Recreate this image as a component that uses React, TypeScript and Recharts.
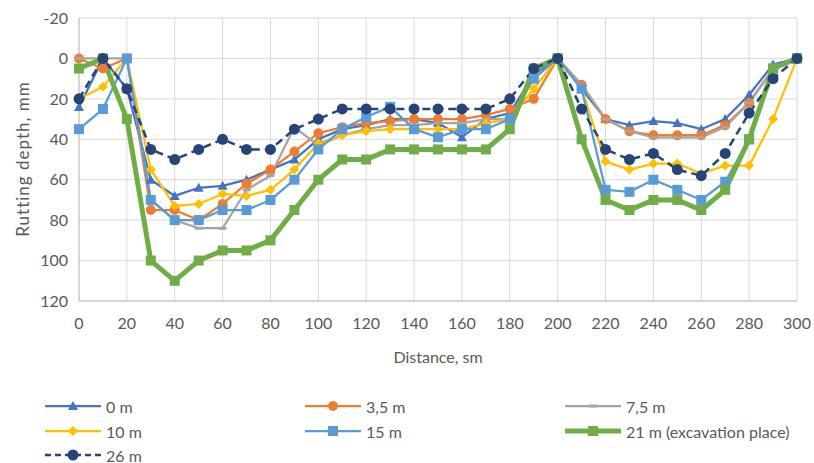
import React from 'react';
import { CartesianGrid, Line, LineChart, XAxis, YAxis } from 'recharts';

const distance = [0, 10, 20, 30, 40, 50, 60, 70, 80, 90, 100, 110, 120, 130, 140, 150, 160, 170, 180, 190, 200, 210, 220, 230, 240, 250, 260, 270, 280, 290, 300];

const depth0 = [24, 0, 15, 60, 68, 64, 63, 60, 55, 50, 40, 35, 33, 30, 30, 32, 39, 30, 27, 8, 0, 15, 30, 33, 31, 32, 35, 30, 18, 3, 0];
const depth35 = [0, 5, 0, 75, 75, 80, 72, 62, 55, 46, 37, 34, 32, 31, 30, 30, 30, 28, 25, 20, 0, 13, 30, 36, 38, 38, 38, 33, 22, 5, 0];
const depth75 = [0, 0, 0, 70, 80, 84, 84, 65, 58, 34, 43, 38, 35, 33, 33, 32, 32, 30, 30, 10, 0, 13, 30, 36, 39, 39, 39, 34, 22, 5, 0];
const depth10 = [20, 14, 0, 55, 73, 72, 67, 68, 65, 55, 42, 38, 36, 35, 35, 35, 35, 32, 30, 15, 0, 15, 51, 55, 52, 52, 57, 53, 53, 30, 0];
const depth15 = [35, 25, 0, 70, 80, 80, 75, 75, 70, 60, 45, 35, 29, 24, 35, 39, 35, 35, 30, 10, 0, 15, 65, 66, 60, 65, 70, 61, 40, 5, 0];
const depth21 = [5, 0, 30, 100, 110, 100, 95, 95, 90, 75, 60, 50, 50, 45, 45, 45, 45, 45, 35, 5, 0, 40, 70, 75, 70, 70, 75, 65, 40, 5, 0];
const depth26 = [20, 0, 15, 45, 50, 45, 40, 45, 45, 35, 30, 25, 25, 25, 25, 25, 25, 25, 20, 5, 0, 25, 45, 50, 47, 55, 58, 47, 27, 10, 0];

const yTicks = [-20, 0, 20, 40, 60, 80, 100, 120];
const xTicks = [0, 20, 40, 60, 80, 100, 120, 140, 160, 180, 200, 220, 240, 260, 280, 300];

const data = distance.map((d, i) => ({
  d,
  s0: depth0[i],
  s35: depth35[i],
  s75: depth75[i],
  s10: depth10[i],
  s15: depth15[i],
  s21: depth21[i],
  s26: depth26[i],
}));

type Shape = 'triangle' | 'circle' | 'dash' | 'diamond' | 'square' | 'bigcircle';

const marker = (shape: Shape, color: string, cx: number, cy: number, key?: string) => {
  switch (shape) {
    case 'triangle':
      return <path key={key} d={`M${cx},${cy - 5} L${cx + 5},${cy + 4} L${cx - 5},${cy + 4} Z`} fill={color} />;
    case 'circle':
      return <circle key={key} cx={cx} cy={cy} r={5} fill={color} />;
    case 'bigcircle':
      return <circle key={key} cx={cx} cy={cy} r={5.5} fill={color} />;
    case 'dash':
      return <rect key={key} x={cx - 4} y={cy - 1.5} width={8} height={3} fill={color} />;
    case 'diamond':
      return <path key={key} d={`M${cx},${cy - 5} L${cx + 5},${cy} L${cx},${cy + 5} L${cx - 5},${cy} Z`} fill={color} />;
    case 'square':
      return <rect key={key} x={cx - 5} y={cy - 5} width={10} height={10} fill={color} />;
  }
  return null;
};

const series = [
  { key: 's0', name: '0 m', color: '#4472C4', shape: 'triangle' as Shape, width: 2.25, dash: undefined },
  { key: 's35', name: '3,5 m', color: '#ED7D31', shape: 'circle' as Shape, width: 2.25, dash: undefined },
  { key: 's75', name: '7,5 m', color: '#A5A5A5', shape: 'dash' as Shape, width: 2.25, dash: undefined },
  { key: 's10', name: '10 m', color: '#FFC000', shape: 'diamond' as Shape, width: 2.25, dash: undefined },
  { key: 's15', name: '15 m', color: '#5B9BD5', shape: 'square' as Shape, width: 2.25, dash: undefined },
  { key: 's21', name: '21 m (excavation place)', color: '#70AD47', shape: 'square' as Shape, width: 5, dash: undefined },
  { key: 's26', name: '26 m', color: '#264478', shape: 'bigcircle' as Shape, width: 2.5, dash: '8 5' },
];

const font = 'Lato, "Open Sans", sans-serif';
const textColor = '#595959';

const legendPos = [
  { left: 45, top: 397 },
  { left: 305, top: 397 },
  { left: 565, top: 397 },
  { left: 45, top: 422 },
  { left: 305, top: 422 },
  { left: 565, top: 422 },
  { left: 45, top: 446 },
];

const YLabel = () => (
  <text
    transform="translate(22,159) rotate(-90)"
    textAnchor="middle"
    dominantBaseline="central"
    fill={textColor}
    fontSize={17}
    fontFamily={font}
    letterSpacing={1}
  >
    Rutting depth, mm
  </text>
);

export default function App() {
  return (
    <div style={{ position: 'absolute', left: 0, top: 0, width: 814, height: 463, background: '#fff', fontFamily: font, overflow: 'hidden' }}>
      <LineChart width={814} height={463} data={data} margin={{ top: 18, right: 17, bottom: 100, left: 0 }}>
        <CartesianGrid stroke="#d9d9d9" strokeWidth={1} verticalValues={xTicks} horizontalValues={yTicks} />
        <XAxis
          dataKey="d"
          type="number"
          domain={[0, 300]}
          ticks={xTicks}
          tickLine={false}
          axisLine={{ stroke: '#bfbfbf' }}
          tick={{ fill: textColor, fontSize: 16, fontFamily: font }}
          tickMargin={11}
          height={62}
          label={{ value: 'Distance, sm', position: 'insideBottom', offset: 0, fill: textColor, fontSize: 16, fontFamily: font }}
        />
        <YAxis
          reversed
          type="number"
          domain={[-20, 120]}
          ticks={yTicks}
          tickLine={false}
          axisLine={{ stroke: '#bfbfbf' }}
          tick={{ fill: textColor, fontSize: 16, fontFamily: font }}
          tickMargin={5}
          width={79}
          label={{ content: () => <YLabel /> }}
        />
        {series.map((s) => (
          <Line
            key={s.key}
            dataKey={s.key}
            name={s.name}
            stroke={s.color}
            strokeWidth={s.width}
            strokeDasharray={s.dash}
            isAnimationActive={false}
            dot={(p: any) => marker(s.shape, s.color, p.cx, p.cy, `${s.key}-${p.index}`)}
            activeDot={false}
          />
        ))}
      </LineChart>
      {series.map((s, i) => (
        <div key={s.key} style={{ position: 'absolute', left: legendPos[i].left, top: legendPos[i].top, display: 'flex', alignItems: 'center', height: 18, color: textColor, fontSize: 16, whiteSpace: 'nowrap' }}>
          <svg width={56} height={18}>
            <line x1={0} y1={9} x2={56} y2={9} stroke={s.color} strokeWidth={s.width} strokeDasharray={s.dash ? '6 4' : undefined} />
            {marker(s.shape, s.color, 28, 9)}
          </svg>
          <span style={{ marginLeft: 5 }}>{s.name}</span>
        </div>
      ))}
    </div>
  );
}
